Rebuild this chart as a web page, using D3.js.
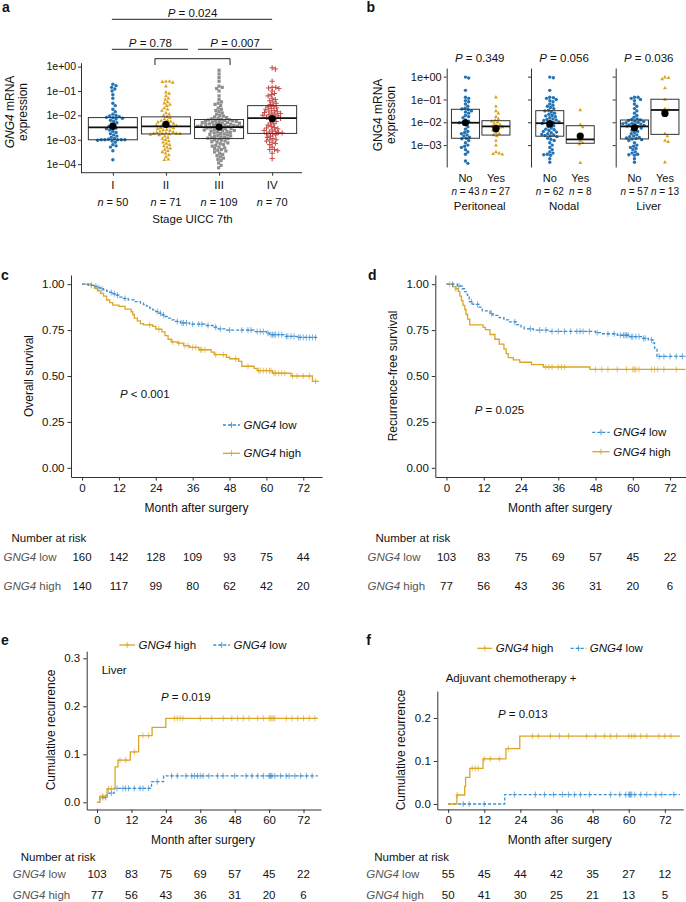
<!DOCTYPE html>
<html><head><meta charset="utf-8">
<script src="https://cdn.jsdelivr.net/npm/d3@7"></script>
<style>body{margin:0;background:#fff}svg{display:block}</style>
</head><body><svg id="fig" width="686" height="902"></svg>
<script>
// ---------------- DATA ----------------
// Panel a: GNG4 expression (log10) by UICC stage
const stages = ["I","II","III","IV"];
const stageN = [50,71,109,70];
const stageQ1 = [-3.0,-2.76,-2.95,-2.74];
const stageMed = [-2.49,-2.45,-2.48,-2.11];
const stageQ3 = [-2.09,-2.06,-2.17,-1.6];
const stageMean = [-2.45,-2.37,-2.48,-2.13];
const stageI = [-0.72,-0.78,-0.85,-0.92,-1.0,-1.15,-1.3,-1.5,-1.6,-1.75,-1.85,-1.95,-2.0,-2.02,-2.05,-2.08,-2.1,-2.12,-2.15,-2.2,-2.25,-2.3,-2.35,-2.4,-2.45,-2.5,-2.52,-2.55,-2.6,-2.65,-2.7,-2.75,-2.8,-2.85,-2.9,-2.95,-2.98,-3.0,-3.0,-3.0,-3.0,-3.0,-3.02,-3.05,-3.1,-3.2,-3.25,-3.3,-3.45,-3.82];
const stageII = [-0.6,-0.6,-0.62,-0.65,-0.8,-1.05,-1.1,-1.2,-1.3,-1.35,-1.45,-1.5,-1.55,-1.6,-1.7,-1.75,-1.8,-1.9,-1.95,-2.0,-2.05,-2.1,-2.15,-2.2,-2.22,-2.25,-2.28,-2.3,-2.33,-2.36,-2.38,-2.4,-2.42,-2.45,-2.47,-2.5,-2.52,-2.55,-2.58,-2.6,-2.62,-2.65,-2.68,-2.7,-2.72,-2.74,-2.74,-2.75,-2.75,-2.76,-2.78,-2.8,-2.85,-2.9,-2.95,-3.0,-3.05,-3.1,-3.15,-3.2,-3.25,-3.3,-3.35,-3.4,-3.45,-3.5,-3.55,-3.62,-3.7,-3.8,-3.82];
const stageIII = [-0.15,-0.3,-0.45,-0.6,-0.8,-0.85,-0.9,-1.0,-1.2,-1.35,-1.45,-1.5,-1.55,-1.6,-1.7,-1.75,-1.8,-1.85,-1.9,-1.95,-2.0,-2.03,-2.06,-2.09,-2.12,-2.14,-2.16,-2.18,-2.19,-2.2,-2.21,-2.22,-2.24,-2.25,-2.26,-2.28,-2.29,-2.3,-2.31,-2.32,-2.34,-2.35,-2.36,-2.38,-2.39,-2.4,-2.41,-2.42,-2.43,-2.44,-2.45,-2.46,-2.47,-2.48,-2.49,-2.5,-2.52,-2.54,-2.55,-2.57,-2.58,-2.6,-2.62,-2.63,-2.65,-2.66,-2.68,-2.7,-2.72,-2.74,-2.76,-2.78,-2.8,-2.82,-2.84,-2.86,-2.88,-2.9,-2.92,-2.93,-2.95,-2.97,-3.0,-3.02,-3.05,-3.08,-3.1,-3.13,-3.16,-3.2,-3.23,-3.26,-3.3,-3.33,-3.36,-3.4,-3.43,-3.46,-3.5,-3.55,-3.6,-3.65,-3.7,-3.75,-3.8,-3.85,-3.95,-4.05,-4.15];
const stageIV = [-0.05,-0.1,-0.6,-0.85,-0.85,-0.88,-0.9,-1.0,-1.1,-1.15,-1.2,-1.3,-1.35,-1.4,-1.45,-1.5,-1.55,-1.62,-1.65,-1.7,-1.72,-1.75,-1.8,-1.82,-1.85,-1.88,-1.9,-1.92,-1.95,-1.98,-2.0,-2.02,-2.05,-2.08,-2.1,-2.12,-2.15,-2.2,-2.25,-2.3,-2.35,-2.4,-2.45,-2.5,-2.52,-2.55,-2.6,-2.62,-2.65,-2.68,-2.7,-2.72,-2.74,-2.76,-2.8,-2.85,-2.9,-2.95,-3.0,-3.0,-3.05,-3.1,-3.15,-3.2,-3.3,-3.4,-3.4,-3.45,-3.55,-3.77];
const logTicks = [0,-1,-2,-3,-4];
const logTicksB = [0,-1,-2,-3];

// Panel b: recurrence site
const sites = ["Peritoneal","Nodal","Liver"];
const siteP = ["0.349","0.056","0.036"];
const siteNNo = [43,62,57];
const siteNYes = [27,8,13];
const siteQ1No = [-2.70,-2.61,-2.73], siteMedNo = [-2.02,-2.04,-2.18], siteQ3No = [-1.43,-1.49,-1.90], siteMeanNo = [-2.02,-2.07,-2.24];
const siteQ1Yes = [-2.56,-2.92,-2.53], siteMedYes = [-2.18,-2.75,-1.46], siteQ3Yes = [-1.93,-2.15,-0.99], siteMeanYes = [-2.28,-2.60,-1.61];
const peritNo = [-0.02,-0.06,-0.6,-0.9,-0.95,-1.05,-1.1,-1.2,-1.3,-1.38,-1.42,-1.45,-1.5,-1.55,-1.6,-1.7,-1.75,-1.8,-1.9,-1.95,-2.0,-2.02,-2.1,-2.2,-2.3,-2.4,-2.45,-2.5,-2.55,-2.6,-2.65,-2.7,-2.72,-2.8,-2.9,-3.0,-3.05,-3.1,-3.2,-3.3,-3.4,-3.7,-3.8];
const peritYes = [-0.9,-1.3,-1.5,-1.6,-1.75,-1.85,-1.9,-1.95,-2.0,-2.05,-2.1,-2.15,-2.18,-2.2,-2.25,-2.3,-2.35,-2.45,-2.5,-2.56,-2.6,-2.8,-3.0,-3.3,-3.35,-3.38,-3.4];
const nodalNo = [-0.02,-0.05,-0.6,-0.9,-0.92,-0.95,-1.0,-1.05,-1.1,-1.2,-1.25,-1.3,-1.35,-1.4,-1.47,-1.5,-1.55,-1.6,-1.65,-1.7,-1.72,-1.75,-1.8,-1.85,-1.88,-1.9,-1.92,-1.95,-1.98,-2.0,-2.03,-2.05,-2.1,-2.15,-2.2,-2.25,-2.3,-2.33,-2.36,-2.4,-2.43,-2.46,-2.5,-2.53,-2.56,-2.58,-2.6,-2.63,-2.7,-2.75,-2.8,-2.9,-3.0,-3.1,-3.2,-3.3,-3.35,-3.4,-3.42,-3.45,-3.6,-3.75];
const nodalYes = [-1.46,-2.1,-2.2,-2.6,-2.8,-2.9,-2.95,-3.77];
const liverNo = [-0.9,-0.9,-0.95,-1.0,-1.05,-1.2,-1.3,-1.4,-1.5,-1.6,-1.7,-1.78,-1.85,-1.88,-1.9,-1.92,-1.95,-1.97,-2.0,-2.02,-2.04,-2.06,-2.08,-2.1,-2.12,-2.14,-2.16,-2.18,-2.2,-2.25,-2.3,-2.35,-2.4,-2.45,-2.5,-2.55,-2.6,-2.63,-2.66,-2.69,-2.71,-2.73,-2.76,-2.8,-2.9,-3.0,-3.05,-3.1,-3.15,-3.2,-3.3,-3.35,-3.4,-3.42,-3.45,-3.6,-3.75];
const liverYes = [-0.02,-0.05,-0.1,-0.5,-1.0,-1.4,-1.46,-1.5,-2.5,-2.6,-2.8,-2.85,-3.75];

// Kaplan-Meier: [month, value] steps, censor months
const months = [0,12,24,36,48,60,72];
const osLow = [[0,1],[2,0.994],[4,0.988],[5,0.981],[6,0.975],[7,0.969],[8,0.962],[9,0.955],[10,0.948],[11,0.94],[12,0.93],[13,0.922],[15,0.915],[17,0.905],[19,0.897],[20,0.889],[21,0.88],[22,0.87],[23,0.86],[24,0.851],[25,0.842],[26,0.833],[27,0.824],[28,0.815],[29,0.806],[30,0.797],[32,0.789],[35,0.782],[40,0.775],[43,0.766],[44,0.757],[47,0.75],[56,0.742],[60,0.733],[61,0.725],[66,0.716],[70,0.71]];
const osLowCens = [3,4.5,5.5,6.5,9.5,10.5,11.5,14,24.5,25.5,26.5,31,32.5,33,34,36,38,39,41,43.5,45,48,52,54,55,57,58,59,60.5,61.5,62,62.5,63,64,65,66.5,67,68,69,70.5,71,72,73,74,75,76];
const osHigh = [[0,1],[3,0.993],[4,0.979],[5,0.964],[6,0.95],[7,0.935],[8,0.914],[9,0.9],[10,0.886],[12,0.879],[14,0.864],[16,0.85],[16.5,0.835],[17,0.815],[18,0.8],[19,0.785],[20,0.778],[23,0.77],[24,0.755],[26,0.74],[27,0.72],[28,0.7],[29,0.686],[31,0.679],[33,0.665],[35,0.656],[38,0.643],[42,0.63],[43,0.616],[47,0.602],[48,0.594],[51,0.58],[52,0.553],[56,0.541],[57,0.529],[62,0.515],[68,0.5],[75,0.471]];
const osHighCens = [22,25,29.5,31.5,33.5,34.5,36,37,38.5,39,40,43.5,46,50,54,57.5,58,59,60,61,61.5,62.5,63,64,65,66,68.5,70,72,74,76];
const rfsLow = [[0,1],[3.5,0.99],[5,0.975],[5.8,0.96],[6.3,0.945],[6.8,0.93],[7.3,0.905],[8.5,0.89],[10.5,0.875],[11.5,0.855],[14,0.84],[15,0.83],[17,0.818],[18.5,0.806],[20,0.795],[22.5,0.78],[24,0.767],[25,0.757],[28,0.75],[33,0.743],[48,0.736],[50,0.73],[55,0.722],[59,0.714],[63,0.705],[65,0.697],[66.5,0.68],[67,0.652],[67.8,0.607]];
const rfsLowCens = [2,4,8,10,14.5,22,27,30,32,34,36,38,40,42,43,44,46,48.5,52,54,56,57,57.5,58,58.5,59.5,60,61,62,63.5,64,66,68.5,70,72,74,76];
const rfsHigh = [[0,1],[2,0.987],[3,0.974],[3.8,0.961],[4.3,0.935],[4.8,0.91],[5.3,0.885],[5.9,0.861],[6.3,0.835],[6.8,0.81],[7.5,0.778],[11.8,0.765],[12.5,0.752],[14,0.726],[15.6,0.7],[17,0.674],[18.5,0.648],[19.2,0.622],[19.9,0.6],[21.5,0.588],[23.6,0.575],[27.4,0.562],[31.2,0.549],[46.2,0.536]];
const rfsHighCens = [1,3,32,33,34,36,37,38,48,50,52,55,58,60,60.5,61,62,66,67,68,70,74];
const livHigh = [[0,0],[1,0.013],[3.5,0.028],[6.3,0.074],[7.3,0.088],[11.6,0.105],[14.5,0.139],[19.2,0.156],[24,0.175]];
const livHighCens = [2,4,5,8,10,13,16,18,27,28,29,30,36,40,44,47,49,51,53,56,58,60,60.5,61,61.5,62,66,68,70,72,74,76];
const livLow = [[0,0],[1,0.01],[3.5,0.019],[6,0.029],[19,0.043],[23.2,0.055]];
const livLowCens = [2,3,5,7,9,10,11,13,15,16,18,21,26,28,31,33,34,35,36,37,39,42,44,48,52,54,56,58,60,60.3,60.6,61,62,64,66,67,69,71,73,75];
const chemoHigh = [[0,0],[2.9,0.021],[5.5,0.041],[5.8,0.062],[7.2,0.083],[11.6,0.105],[19.2,0.129],[23.8,0.158]];
const chemoHighCens = [3,8,9,10,12,14,17,20,28,30,34,37,40,46,49,52,54,56,60,61,62,64,66,70,72,74];
const chemoLow = [[0,0],[18.8,0.022]];
const chemoLowCens = [5,7,12,22,29,32,35,38,40,42,44,47,54,57,59,60,60.3,60.6,61,62,64,66,69,71,75];
const kmEnd = 77;

// Numbers at risk
const riskOSLow = [160,142,128,109,93,75,44];
const riskOSHigh = [140,117,99,80,62,42,20];
const riskRFSLow = [103,83,75,69,57,45,22];
const riskRFSHigh = [77,56,43,36,31,20,6];
const riskLivLow = [103,83,75,69,57,45,22];
const riskLivHigh = [77,56,43,36,31,20,6];
const riskChemoLow = [55,45,44,42,35,27,12];
const riskChemoHigh = [50,41,30,25,21,13,5];

// ---------------- DRAWING ----------------
const FONT = '"Liberation Sans", Arial, Helvetica, sans-serif';
const BLUE = "#2372b4", GOLD = "#d9a31c", GREY = "#8e8e8e", RED = "#c4514f";
const KBLUE = "#3a8ed0", KGOLD = "#dba623";
const svg = d3.select("#fig").attr("font-family", FONT);

function text(x, y, s, o = {}) {
  const t = svg.append("text").attr("x", x).attr("y", y)
    .attr("font-size", o.fs || 11.5).attr("fill", o.fill || "#111")
    .attr("text-anchor", o.anchor || "start");
  if (o.weight) t.attr("font-weight", o.weight);
  if (o.rot) t.attr("transform", `rotate(-90,${x},${y})`);
  if (o.parts) o.parts.forEach(p => t.append("tspan").attr("font-style", p[1] ? "italic" : null).text(p[0]));
  else t.text(s);
  return t;
}
function styleAxis(g, fs) {
  g.attr("font-family", FONT).attr("font-size", fs);
  g.selectAll("path,line").attr("stroke", "#333").attr("stroke-width", 1);
  g.selectAll("text").attr("fill", "#111");
}
const logFmt = v => v === 0 ? "1e+00" : "1e\u2212" + String(-v).padStart(2, "0");

// deterministic beeswarm layout
function swarm(vals, y, dist, maxW) {
  const pts = vals.map(v => ({ v, y: y(v), x: 0 })).sort((a, b) => a.y - b.y);
  const placed = [];
  pts.forEach((p, idx) => {
    let off = null;
    for (let k = 0; k < 400; k++) {
      const c = (k % 2 ? 1 : -1) * Math.ceil(k / 2) * 0.4;
      if (Math.abs(c) > maxW) break;
      if (placed.every(q => (q.x - c) ** 2 + (q.y - p.y) ** 2 >= dist * dist)) { off = c; break; }
    }
    if (off === null) off = (idx % 2 ? 1 : -1) * maxW * ((idx * 0.37) % 1);
    p.x = off; placed.push(p);
  });
  return pts;
}
function drawPoint(g, x, y, shape, color) {
  if (shape === "circle") g.append("circle").attr("cx", x).attr("cy", y).attr("r", 1.7).attr("fill", color);
  else if (shape === "tri") g.append("path").attr("transform", `translate(${x},${y})`).attr("d", "M0,-2.1L1.9,1.3L-1.9,1.3Z").attr("fill", color);
  else if (shape === "sq") g.append("rect").attr("x", x - 1.6).attr("y", y - 1.6).attr("width", 3.2).attr("height", 3.2).attr("fill", color);
  else g.append("path").attr("transform", `translate(${x},${y})`).attr("d", "M-2.6,0H2.6M0,-2.6V2.6").attr("stroke", color).attr("stroke-width", 1.1);
}
function crossbar(g, cx, w, y, q1, med, q3, mean) {
  g.append("rect").attr("x", cx - w / 2).attr("y", y(q3)).attr("width", w).attr("height", y(q1) - y(q3))
    .attr("fill", "none").attr("stroke", "#333").attr("stroke-width", 1);
  g.append("line").attr("x1", cx - w / 2).attr("x2", cx + w / 2).attr("y1", y(med)).attr("y2", y(med)).attr("stroke", "#111").attr("stroke-width", 1.8);
  g.append("circle").attr("cx", cx).attr("cy", y(mean)).attr("r", 3.6).attr("fill", "#000");
}

// ---- Panel a ----
text(2, 12, "a", { fs: 14, weight: "bold" });
const ya = d3.scaleLinear().domain([-4.35, 0.16]).range([172.7, 62.7]);
const xa = d3.scalePoint().domain(stages).range([81, 304]).padding(0.6);
const gA = svg.append("g");
const stageVals = [stageI, stageII, stageIII, stageIV];
const stageShape = ["circle", "tri", "sq", "plus"];
const stageCol = [BLUE, GOLD, GREY, RED];
stages.forEach((s, i) => {
  swarm(stageVals[i], ya, 3.3, 22).forEach(p => drawPoint(gA, xa(s) + p.x, p.y, stageShape[i], stageCol[i]));
});
stages.forEach((s, i) => crossbar(gA, xa(s), 49, ya, stageQ1[i], stageMed[i], stageQ3[i], stageMean[i]));
const axA = svg.append("g").attr("transform", "translate(81,0)").call(d3.axisLeft(ya).tickValues(logTicks).tickFormat(logFmt).tickSize(3).tickSizeOuter(0).tickPadding(2));
styleAxis(axA, 10.5);
const axAx = svg.append("g").attr("transform", "translate(0,172.7)").call(d3.axisBottom(xa).tickSize(3).tickSizeOuter(0).tickFormat(""));
styleAxis(axAx, 10);
axAx.select(".domain").attr("d", "M81,0H302");
stages.forEach((s, i) => {
  text(xa(s), 189, s, { anchor: "middle", fs: 11.5 });
  text(xa(s), 206, null, { anchor: "middle", fs: 11, parts: [["n", 1], [" = " + stageN[i], 0]] });
});
text(192.5, 223, "Stage UICC 7th", { anchor: "middle", fs: 11.5 });
text(14, 112, null, { anchor: "middle", rot: 1, fs: 12, parts: [["GNG4", 1], [" mRNA", 0]] });
text(26.5, 112, "expression", { anchor: "middle", rot: 1, fs: 12 });
// comparisons
const line = (x1, y1, x2, y2) => svg.append("line").attr("x1", x1).attr("x2", x2).attr("y1", y1).attr("y2", y2).attr("stroke", "#222").attr("stroke-width", 1);
line(xa("I") - 1, 19.3, xa("IV"), 19.3);
text((xa("I") + xa("IV")) / 2, 17, null, { anchor: "middle", parts: [["P", 1], [" = 0.024", 0]] });
line(xa("I") - 1, 49.3, xa("II") + 22, 49.3);
text((xa("I") + xa("II") + 22) / 2, 47, null, { anchor: "middle", parts: [["P", 1], [" = 0.78", 0]] });
line(xa("III") - 21, 49.3, xa("IV"), 49.3);
text((xa("III") - 21 + xa("IV")) / 2, 47, null, { anchor: "middle", parts: [["P", 1], [" = 0.007", 0]] });
svg.append("path").attr("d", `M${xa("II") - 11},65V58.7H${xa("III") + 11}V65`).attr("fill", "none").attr("stroke", "#222").attr("stroke-width", 1);

// ---- Panel b ----
text(366.5, 12, "b", { fs: 14, weight: "bold" });
const yb = d3.scaleLinear().domain([-3.96, 0.38]).range([167, 68]);
const facetX = [446.7, 531, 615.7];
const fw = 68;
const xb = d3.scalePoint().domain(["No", "Yes"]).range([0, fw]).padding(0.615);
const noVals = [peritNo, nodalNo, liverNo], yesVals = [peritYes, nodalYes, liverYes];
sites.forEach((s, i) => {
  const g = svg.append("g").attr("transform", `translate(${facetX[i]},0)`);
  swarm(noVals[i], yb, 3.3, 12).forEach(p => drawPoint(g, xb("No") + p.x, p.y, "circle", BLUE));
  swarm(yesVals[i], yb, 3.3, 12).forEach(p => drawPoint(g, xb("Yes") + p.x, p.y, "tri", GOLD));
  crossbar(g, xb("No"), 28, yb, siteQ1No[i], siteMedNo[i], siteQ3No[i], siteMeanNo[i]);
  crossbar(g, xb("Yes"), 28, yb, siteQ1Yes[i], siteMedYes[i], siteQ3Yes[i], siteMeanYes[i]);
  const ax = g.append("g").call(d3.axisLeft(yb).tickValues(logTicksB).tickFormat(i === 0 ? logFmt : "").tickSize(3).tickSizeOuter(0).tickPadding(2));
  styleAxis(ax, 11);
  const cx = facetX[i] + 33;
  text(cx, 62.3, null, { anchor: "middle", parts: [["P", 1], [" = " + siteP[i], 0]] });
  text(facetX[i] + xb("No"), 182.3, "No", { anchor: "middle", fs: 11 });
  text(facetX[i] + xb("Yes"), 182.3, "Yes", { anchor: "middle", fs: 11 });
  text(facetX[i] + xb("No"), 194.5, null, { anchor: "middle", fs: 10, parts: [["n", 1], [" = " + siteNNo[i], 0]] });
  text(facetX[i] + xb("Yes"), 194.5, null, { anchor: "middle", fs: 10, parts: [["n", 1], [" = " + siteNYes[i], 0]] });
  text(cx, 209.7, s, { anchor: "middle", fs: 11.5 });
});
text(382, 115, "GNG4 mRNA", { anchor: "middle", rot: 1, fs: 12 });
text(395, 115, "expression", { anchor: "middle", rot: 1, fs: 12 });

// ---- KM helpers ----
function valAt(steps, t) { let v = steps[0][1]; for (const s of steps) { if (s[0] <= t) v = s[1]; } return v; }
function kmCurve(x, y, steps, cens, color, dashed) {
  const g = svg.append("g");
  const pts = steps.concat([[kmEnd, steps[steps.length - 1][1]]]);
  g.append("path").attr("d", d3.line().x(d => x(d[0])).y(d => y(d[1])).curve(d3.curveStepAfter)(pts))
    .attr("fill", "none").attr("stroke", color).attr("stroke-width", 1.3)
    .attr("stroke-dasharray", dashed ? "3,2" : null);
  cens.forEach(t => {
    const cx = x(t), cy = y(valAt(steps, t));
    g.append("path").attr("d", `M${cx - 1.8},${cy}H${cx + 1.8}M${cx},${cy - 3}V${cy + 3}`)
      .attr("stroke", color).attr("stroke-width", 0.8).attr("opacity", 0.85);
  });
}
function legendItem(x1, x2, yc, color, dashed, label) {
  svg.append("line").attr("x1", x1).attr("x2", x2).attr("y1", yc).attr("y2", yc).attr("stroke", color).attr("stroke-width", 1.3).attr("stroke-dasharray", dashed ? "3,2" : null);
  const m = (x1 + x2) / 2;
  svg.append("path").attr("d", `M${m - 1.8},${yc}H${m + 1.8}M${m},${yc - 3}V${yc + 3}`).attr("stroke", color).attr("stroke-width", 0.8);
  text(x2 + 3.5, yc + 4, null, { parts: [["GNG4", 1], [" " + label, 0]] });
}
function kmAxes(x, y, yTicks, yFmt, x0, y0) {
  const ax = svg.append("g").attr("transform", `translate(${x0},0)`).call(d3.axisLeft(y).tickValues(yTicks).tickFormat(yFmt).tickSize(3.5).tickSizeOuter(0).tickPadding(3));
  styleAxis(ax, 11.5);
  const bx = svg.append("g").attr("transform", `translate(0,${y0})`).call(d3.axisBottom(x).tickValues(months).tickSize(3.5).tickSizeOuter(0).tickPadding(3));
  styleAxis(bx, 11.5);
}
function riskTable(x, labelX, yTitle, yLow, yHigh, low, high) {
  text(labelX + 8, yTitle, "Number at risk");
  text(labelX, yLow, null, { fill: "#555", parts: [["GNG4", 1], [" low", 0]] });
  text(labelX, yHigh, null, { fill: "#555", parts: [["GNG4", 1], [" high", 0]] });
  months.forEach((m, i) => {
    text(x(m), yLow, String(low[i]), { anchor: "middle" });
    text(x(m), yHigh, String(high[i]), { anchor: "middle" });
  });
}

// ---- Panel c ----
text(1, 280, "c", { fs: 14, weight: "bold" });
const xc = d3.scaleLinear().domain([-3.6, 78.1]).range([71, 322]);
const yc = d3.scaleLinear().domain([-0.05, 1.05]).range([477, 275]);
kmCurve(xc, yc, osHigh, osHighCens, KGOLD, false);
kmCurve(xc, yc, osLow, osLowCens, KBLUE, true);
kmAxes(xc, yc, [0, 0.25, 0.5, 0.75, 1], d3.format(".2f"), 71, 477);
text(196.5, 512, "Month after surgery", { anchor: "middle", fs: 12 });
text(33, 376, "Overall survival", { anchor: "middle", rot: 1, fs: 12 });
text(120, 398, null, { parts: [["P", 1], [" < 0.001", 0]] });
legendItem(223, 240, 425, KBLUE, true, "low");
legendItem(223, 240, 453.3, KGOLD, false, "high");
riskTable(xc, 3.5, 541.5, 561, 590, riskOSLow, riskOSHigh);

// ---- Panel d ----
text(368, 280, "d", { fs: 14, weight: "bold" });
const xd = d3.scaleLinear().domain([-3.6, 78.1]).range([435.3, 689]);
const yd = d3.scaleLinear().domain([-0.05, 1.05]).range([477, 275]);
kmCurve(xd, yd, rfsHigh, rfsHighCens, KGOLD, false);
kmCurve(xd, yd, rfsLow, rfsLowCens, KBLUE, true);
kmAxes(xd, yd, [0, 0.25, 0.5, 0.75, 1], d3.format(".2f"), 435.3, 477);
text(560, 512, "Month after surgery", { anchor: "middle", fs: 12 });
text(396.5, 376, "Recurrence-free survival", { anchor: "middle", rot: 1, fs: 12 });
text(474.7, 414, null, { parts: [["P", 1], [" = 0.025", 0]] });
legendItem(592.3, 609.7, 432.3, KBLUE, true, "low");
legendItem(592.3, 609.7, 451.7, KGOLD, false, "high");
riskTable(xd, 367.5, 541.5, 561, 590, riskRFSLow, riskRFSHigh);

// ---- Panel e ----
text(1, 645, "e", { fs: 14, weight: "bold" });
const xe = d3.scaleLinear().domain([-3.6, 78.1]).range([86.7, 321]);
const ye = d3.scaleLinear().domain([-0.015, 0.315]).range([809.5, 651.1]);
kmCurve(xe, ye, livLow, livLowCens, KBLUE, true);
kmCurve(xe, ye, livHigh, livHighCens, KGOLD, false);
kmAxes(xe, ye, [0, 0.1, 0.2, 0.3], d3.format(".1f"), 86.7, 809.5);
text(203, 844, "Month after surgery", { anchor: "middle", fs: 12 });
text(54.5, 730, "Cumulative recurrence", { anchor: "middle", rot: 1, fs: 12 });
text(101.7, 674, "Liver");
text(161, 701, null, { parts: [["P", 1], [" = 0.019", 0]] });
legendItem(119.3, 135, 645, KGOLD, false, "high");
legendItem(213.3, 230, 645, KBLUE, true, "low");
riskTable(xe, 12.7, 861, 878.3, 899, riskLivLow, riskLivHigh);

// ---- Panel f ----
text(366.3, 645, "f", { fs: 14, weight: "bold" });
const xf = d3.scaleLinear().domain([-3.6, 78.1]).range([437.3, 683.2]);
const yf = d3.scaleLinear().domain([-0.0125, 0.2625]).range([809.4, 691.1]);
kmCurve(xf, yf, chemoLow, chemoLowCens, KBLUE, true);
kmCurve(xf, yf, chemoHigh, chemoHighCens, KGOLD, false);
kmAxes(xf, yf, [0, 0.1, 0.2], d3.format(".1f"), 437.3, 809.4);
text(559.7, 844, "Month after surgery", { anchor: "middle", fs: 12 });
text(405, 750, "Cumulative recurrence", { anchor: "middle", rot: 1, fs: 12 });
text(445.7, 682, "Adjuvant chemotherapy +");
text(498, 718, null, { parts: [["P", 1], [" = 0.013", 0]] });
legendItem(477.3, 492.3, 648.3, KGOLD, false, "high");
legendItem(570.7, 586.3, 648.3, KBLUE, true, "low");
riskTable(xf, 366.3, 861, 878.3, 899, riskChemoLow, riskChemoHigh);
</script></body></html>
